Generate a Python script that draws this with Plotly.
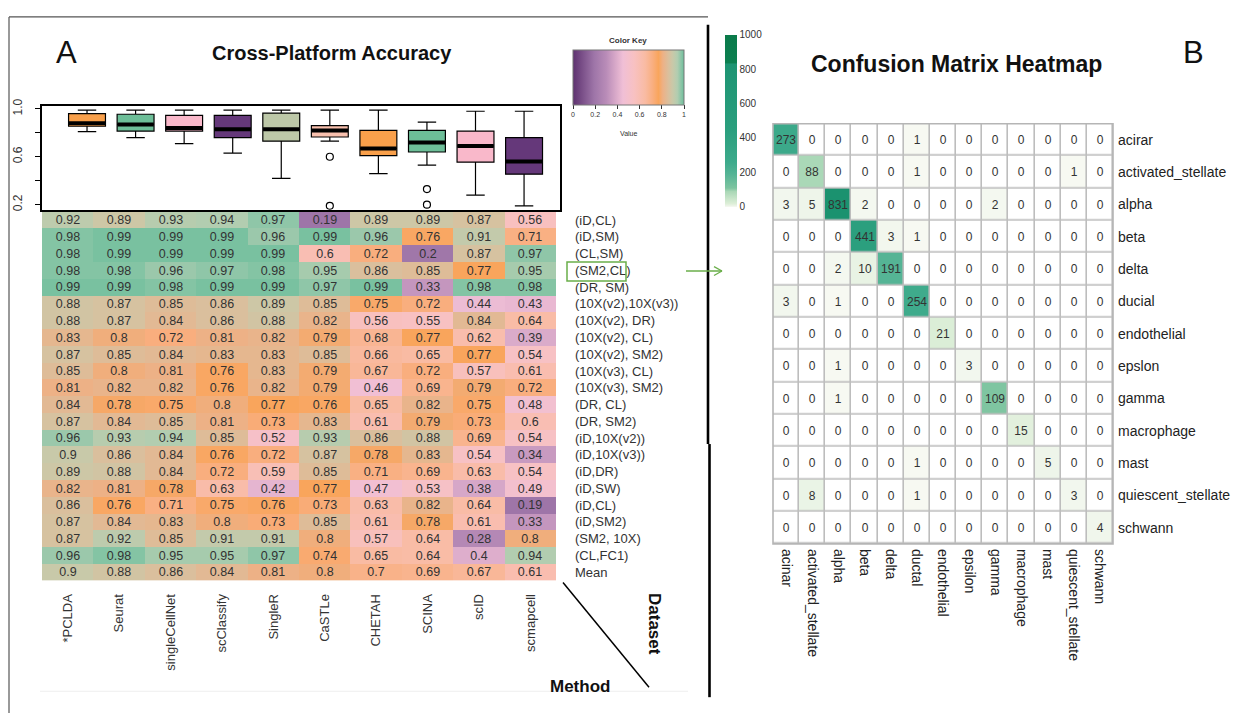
import numpy as np
import plotly.graph_objects as go

W, H = 1245, 714

# ---------------- Panel A data ----------------
methods = ["*PCLDA", "Seurat", "singleCellNet", "scClassify", "SingleR",
           "CaSTLe", "CHETAH", "SCINA", "scID", "scmapcell"]

datasets = ["(iD,CL)", "(iD,SM)", "(CL,SM)", "(SM2,CL)", "(DR, SM)",
            "(10X(v2),10X(v3))", "(10X(v2), DR)", "(10X(v2), CL)", "(10X(v2), SM2)",
            "(10X(v3), CL)", "(10X(v3), SM2)", "(DR, CL)", "(DR, SM2)",
            "(iD,10X(v2))", "(iD,10X(v3))", "(iD,DR)", "(iD,SW)", "(iD,CL)",
            "(iD,SM2)", "(SM2, 10X)", "(CL,FC1)"]

accuracy = [
    [0.92, 0.89, 0.93, 0.94, 0.97, 0.19, 0.89, 0.89, 0.87, 0.56],
    [0.98, 0.99, 0.99, 0.99, 0.96, 0.99, 0.96, 0.76, 0.91, 0.71],
    [0.98, 0.99, 0.99, 0.99, 0.99, 0.6, 0.72, 0.2, 0.87, 0.97],
    [0.98, 0.98, 0.96, 0.97, 0.98, 0.95, 0.86, 0.85, 0.77, 0.95],
    [0.99, 0.99, 0.98, 0.99, 0.99, 0.97, 0.99, 0.33, 0.98, 0.98],
    [0.88, 0.87, 0.85, 0.86, 0.89, 0.85, 0.75, 0.72, 0.44, 0.43],
    [0.88, 0.87, 0.84, 0.86, 0.88, 0.82, 0.56, 0.55, 0.84, 0.64],
    [0.83, 0.8, 0.72, 0.81, 0.82, 0.79, 0.68, 0.77, 0.62, 0.39],
    [0.87, 0.85, 0.84, 0.83, 0.83, 0.85, 0.66, 0.65, 0.77, 0.54],
    [0.85, 0.8, 0.81, 0.76, 0.83, 0.79, 0.67, 0.72, 0.57, 0.61],
    [0.81, 0.82, 0.82, 0.76, 0.82, 0.79, 0.46, 0.69, 0.79, 0.72],
    [0.84, 0.78, 0.75, 0.8, 0.77, 0.76, 0.65, 0.82, 0.75, 0.48],
    [0.87, 0.84, 0.85, 0.81, 0.73, 0.83, 0.61, 0.79, 0.73, 0.6],
    [0.96, 0.93, 0.94, 0.85, 0.52, 0.93, 0.86, 0.88, 0.69, 0.54],
    [0.9, 0.86, 0.84, 0.76, 0.72, 0.87, 0.78, 0.83, 0.54, 0.34],
    [0.89, 0.88, 0.84, 0.72, 0.59, 0.85, 0.71, 0.69, 0.63, 0.54],
    [0.82, 0.81, 0.78, 0.63, 0.42, 0.77, 0.47, 0.53, 0.38, 0.49],
    [0.86, 0.76, 0.71, 0.75, 0.76, 0.73, 0.63, 0.82, 0.64, 0.19],
    [0.87, 0.84, 0.83, 0.8, 0.73, 0.85, 0.61, 0.78, 0.61, 0.33],
    [0.87, 0.92, 0.85, 0.91, 0.91, 0.8, 0.57, 0.64, 0.28, 0.8],
    [0.96, 0.98, 0.95, 0.95, 0.97, 0.74, 0.65, 0.64, 0.4, 0.94],
]
mean_row = [0.9, 0.88, 0.86, 0.84, 0.81, 0.8, 0.7, 0.69, 0.67, 0.61]

box_colors = ["#F9A04B", "#6DBE98", "#F9B8CA", "#65387A", "#BDC8A8",
              "#F8C0AE", "#F9A04B", "#6DBE98", "#F9B8CA", "#65387A"]

# ---------------- Panel B data ----------------
true_labels = ["acirar", "activated_stellate", "alpha", "beta", "delta", "ducial",
               "endothelial", "epslon", "gamma", "macrophage", "mast",
               "quiescent_stellate", "schwann"]
pred_labels = ["acinar", "activated_stellate", "alpha", "beta", "delta", "ductal",
               "endothelial", "epsilon", "gamma", "macrophage", "mast",
               "quiescent_stellate", "schwann"]
confusion = [
    [273, 0, 0, 0, 0, 1, 0, 0, 0, 0, 0, 0, 0],
    [0, 88, 0, 0, 0, 1, 0, 0, 0, 0, 0, 1, 0],
    [3, 5, 831, 2, 0, 0, 0, 0, 2, 0, 0, 0, 0],
    [0, 0, 0, 441, 3, 1, 0, 0, 0, 0, 0, 0, 0],
    [0, 0, 2, 10, 191, 0, 0, 0, 0, 0, 0, 0, 0],
    [3, 0, 1, 0, 0, 254, 0, 0, 0, 0, 0, 0, 0],
    [0, 0, 0, 0, 0, 0, 21, 0, 0, 0, 0, 0, 0],
    [0, 0, 1, 0, 0, 0, 0, 3, 0, 0, 0, 0, 0],
    [0, 0, 1, 0, 0, 0, 0, 0, 109, 0, 0, 0, 0],
    [0, 0, 0, 0, 0, 0, 0, 0, 0, 15, 0, 0, 0],
    [0, 0, 0, 0, 0, 1, 0, 0, 0, 0, 5, 0, 0],
    [0, 8, 0, 0, 0, 1, 0, 0, 0, 0, 0, 3, 0],
    [0, 0, 0, 0, 0, 0, 0, 0, 0, 0, 0, 0, 4],
]

FONT = "Liberation Sans, Arial, Helvetica, sans-serif"


def px(x):
    return x / W


def py(y):
    return 1 - y / H


acc_scale = [
    [0.00, "#5E3270"], [0.19, "#9E75A8"], [0.30, "#B98CB8"], [0.45, "#F0BFD6"],
    [0.55, "#F8C1C2"], [0.65, "#F9BBA3"], [0.72, "#F9AE7E"], [0.77, "#F9A55C"],
    [0.81, "#EDB186"], [0.86, "#DABF9D"], [0.90, "#C8C9A9"], [0.94, "#B2CDB0"],
    [0.97, "#8FC6A8"], [1.00, "#6EBF9C"],
]

conf_scale = [
    [0.0, "#FFFFFF"], [0.0008, "#F7F9F2"], [0.005, "#EEF5EA"], [0.02, "#DCEED7"],
    [0.09, "#A9D7B6"], [0.11, "#7DC4A0"], [0.19, "#55B495"], [0.26, "#3DAA8B"],
    [0.44, "#2B9F7E"], [0.83, "#1D9472"], [0.84, "#0C8050"], [1.0, "#0A7A4A"],
]

fig = go.Figure()

# ---- accuracy heatmap (panel A) ----
acc_z = accuracy + [mean_row]
acc_rows = datasets + ["Mean"]
n_rows = len(acc_rows)
fig.add_trace(go.Heatmap(
    z=acc_z, x=list(range(len(methods))), y=list(range(n_rows)),
    colorscale=acc_scale, zmin=0, zmax=1,
    texttemplate="%{z}", textfont=dict(family=FONT, size=12.5, color="#333333"),
    xaxis="x", yaxis="y", hoverinfo="skip",
    colorbar=dict(
        orientation="h", x=px(573), xanchor="left", y=py(43), yanchor="top",
        len=111, lenmode="pixels", thickness=55, xpad=0, ypad=0,
        outlinewidth=1, outlinecolor="#777777",
        ticks="outside", ticklen=4, tickcolor="#333333",
        tickvals=[0, 0.2, 0.4, 0.6, 0.8, 1],
        ticktext=["0", "0.2", "0.4", "0.6", "0.8", "1"],
        tickfont=dict(family=FONT, size=7, color="#333333"),
    ),
))

# ---- box plots of each method's accuracies ----
for i, m in enumerate(methods):
    col = [row[i] for row in accuracy]
    fig.add_trace(go.Box(
        y=col, x0=i + 1, width=0.76, name=m,
        fillcolor=box_colors[i], line=dict(color="black", width=1.2),
        whiskerwidth=0.5, boxpoints="outliers", quartilemethod="exclusive",
        marker=dict(symbol="circle-open", color="black", size=7,
                    line=dict(width=1.2, color="black")),
        xaxis="x2", yaxis="y2", showlegend=False, hoverinfo="skip",
    ))
    # heavy median bar
    fig.add_trace(go.Scatter(
        x=[i + 1], y=[float(np.median(col))], mode="markers",
        marker=dict(symbol="line-ew", size=26, line=dict(width=4, color="black")),
        xaxis="x2", yaxis="y2", showlegend=False, hoverinfo="skip",
    ))

# ---- confusion matrix heatmap (panel B) ----
fig.add_trace(go.Heatmap(
    z=confusion, x=list(range(len(pred_labels))), y=list(range(len(true_labels))),
    colorscale=conf_scale, zmin=0, zmax=1000, xgap=1.6, ygap=1.6,
    texttemplate="%{z}", textfont=dict(family=FONT, size=12, color="#333333"),
    xaxis="x3", yaxis="y3", hoverinfo="skip",
    colorbar=dict(
        x=px(725), xanchor="left", y=py(28), yanchor="top",
        len=172, lenmode="pixels", thickness=12, xpad=0, ypad=0,
        outlinewidth=0, ticks="", tickvals=[0, 200, 400, 600, 800, 1000],
        tickfont=dict(family=FONT, size=10, color="#333333"),
    ),
))

axis_off = dict(showgrid=False, zeroline=False)

fig.update_layout(
    width=W, height=H, margin=dict(l=0, r=0, t=0, b=0),
    paper_bgcolor="white", plot_bgcolor="white",
    font=dict(family=FONT, color="#333333"),
    showlegend=False,
    xaxis=dict(domain=[px(42), px(556)], range=[-0.5, 9.5], **axis_off,
               tickvals=list(range(len(methods))), ticktext=methods,
               tickangle=-90, ticks="", ticklabelstandoff=10,
               tickfont=dict(family=FONT, size=13, color="#333333"),
               anchor="y"),
    yaxis=dict(domain=[py(580), py(207)], range=[n_rows - 0.5, -0.5], **axis_off,
               tickvals=list(range(n_rows)), ticktext=acc_rows,
               side="right", ticks="", ticklabelstandoff=18,
               tickfont=dict(family=FONT, size=13, color="#333333"),
               anchor="x"),
    xaxis2=dict(domain=[px(42), px(560)], range=[0.073, 10.74], type="linear",
                **axis_off, showticklabels=False, ticks="",
                showline=True, mirror=True, linecolor="black", linewidth=1.5,
                anchor="y2"),
    yaxis2=dict(domain=[py(205), py(100)], range=[0.158, 1.025], **axis_off,
                tickvals=[0.2, 0.4, 0.6, 0.8, 1.0],
                ticktext=["0.2", "", "0.6", "", "1.0"],
                tickangle=-90, ticks="outside", ticklen=5, tickcolor="black",
                ticklabelstandoff=8,
                tickfont=dict(family=FONT, size=12, color="#333333"),
                showline=True, mirror=True, linecolor="black", linewidth=1.5,
                anchor="x2"),
    xaxis3=dict(domain=[px(773), px(1113)], range=[-0.5, 12.5], **axis_off,
                tickvals=list(range(len(pred_labels))), ticktext=pred_labels,
                tickangle=90, ticks="", ticklabelstandoff=4,
                tickfont=dict(family=FONT, size=14, color="#222222"),
                anchor="y3"),
    yaxis3=dict(domain=[py(543), py(118)], range=[12.5, -0.5], **axis_off,
                tickvals=list(range(len(true_labels))), ticktext=true_labels,
                side="right", ticks="", ticklabelstandoff=4,
                tickfont=dict(family=FONT, size=14, color="#222222"),
                anchor="x3"),
)

shapes = []
# grid background behind the confusion cells
shapes.append(dict(type="rect", xref="x3 domain", yref="y3 domain",
                   x0=0, x1=1, y0=0, y1=1, fillcolor="#BDBDBD",
                   line=dict(width=0), layer="below"))
shapes.append(dict(type="rect", xref="x3 domain", yref="y3 domain",
                   x0=0, x1=1, y0=0, y1=1, line=dict(color="#B5B5B5", width=1.6)))

# panel frame and divider
shapes += [
    dict(type="line", xref="paper", yref="paper", x0=px(9), x1=px(708),
         y0=py(10), y1=py(10), line=dict(color="#555555", width=1.2)),
    dict(type="line", xref="paper", yref="paper", x0=px(9), x1=px(9),
         y0=py(10), y1=py(714), line=dict(color="#555555", width=1.2)),
    dict(type="line", xref="paper", yref="paper", x0=px(708), x1=px(708),
         y0=py(18), y1=py(442), line=dict(color="black", width=2.6)),
    dict(type="line", xref="paper", yref="paper", x0=px(709.5), x1=px(709.5),
         y0=py(442), y1=py(698), line=dict(color="black", width=2.6)),
    dict(type="line", xref="paper", yref="paper", x0=px(40), x1=px(688),
         y0=py(692), y1=py(692), line=dict(color="#EEEEEE", width=1)),
    # Method / Dataset divider
    dict(type="line", xref="paper", yref="paper", x0=px(563), x1=px(649),
         y0=py(582), y1=py(688), line=dict(color="black", width=1.5)),
    # highlight box around the (SM2,CL) row label and pointer to panel B
    dict(type="rect", xref="paper", yref="paper", x0=px(567), x1=px(626),
         y0=py(277), y1=py(258), line=dict(color="#6AAE4A", width=1.5)),
    dict(type="line", xref="paper", yref="paper", x0=px(686), x1=px(722),
         y0=py(267), y1=py(267), line=dict(color="#6AAE4A", width=1.3)),
    dict(type="line", xref="paper", yref="paper", x0=px(714), x1=px(722),
         y0=py(262.5), y1=py(267), line=dict(color="#6AAE4A", width=1.3)),
    dict(type="line", xref="paper", yref="paper", x0=px(714), x1=px(722),
         y0=py(271.5), y1=py(267), line=dict(color="#6AAE4A", width=1.3)),
]
fig.update_layout(shapes=shapes)


def label(text, x, y, size, bold=False, angle=0, color="#111111", xanchor="center"):
    return dict(text=f"<b>{text}</b>" if bold else text, x=px(x), y=py(y),
                xref="paper", yref="paper", showarrow=False, textangle=angle,
                xanchor=xanchor, yanchor="middle",
                font=dict(family=FONT, size=size, color=color))


fig.update_layout(annotations=[
    label("A", 66, 46, 31, color="#111111"),
    label("Cross-Platform Accuracy", 332, 47, 20, bold=True),
    label("Color Key", 628, 34, 8, bold=True, color="#333333"),
    label("Value", 628, 128, 7, color="#333333"),
    label("Method", 580, 687, 17, bold=True),
    label("Dataset", 655, 624, 17, bold=True, angle=90),
    label("Confusion Matrix Heatmap", 956, 58, 23, bold=True),
    label("B", 1193, 46, 31, color="#111111"),
])

fig.write_html("out.html")
